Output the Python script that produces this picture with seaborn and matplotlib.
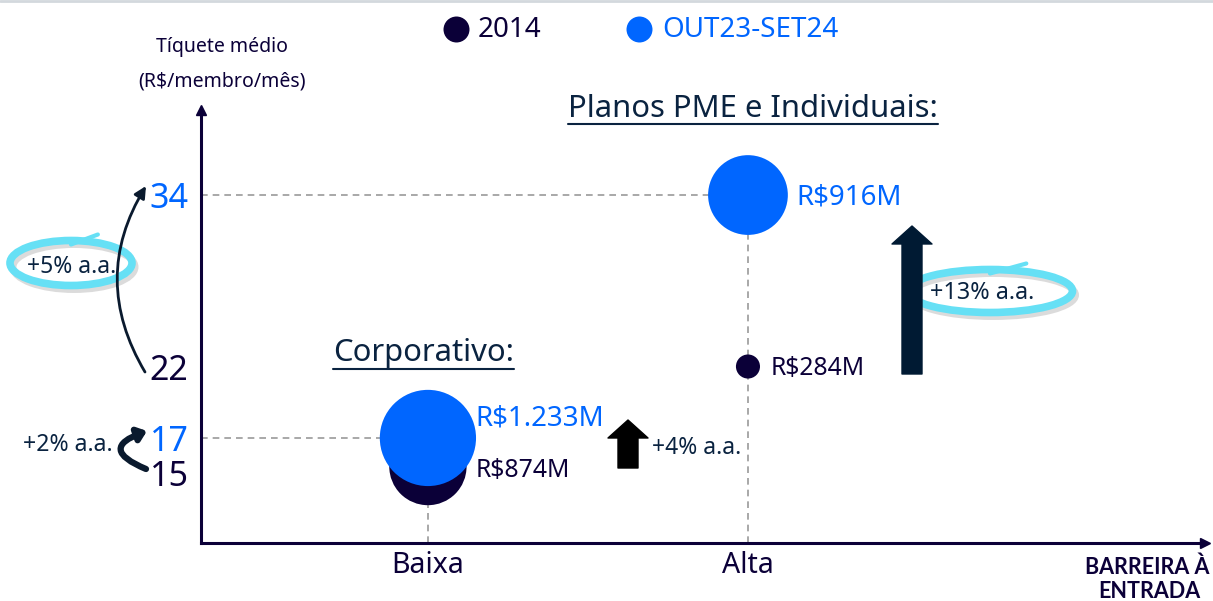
import pandas as pd
import numpy as np
import matplotlib.pyplot as plt
import matplotlib.patches as mpatches
import matplotlib.transforms as mtransforms
import seaborn as sns

# data
barreira = ["Baixa", "Baixa", "Alta", "Alta"]
periodo = ["2014", "OUT23-SET24", "2014", "OUT23-SET24"]
ticket = [15, 17, 22, 34]
receita = [874, 1233, 284, 916]
rotulos = ["R$874M", "R$1.233M", "R$284M", "R$916M"]
yticks = [15, 17, 22, 34]
series = ["2014", "OUT23-SET24"]

NAVY = "#0B0038"
BLUE = "#0066FF"
TXT = "#0A2340"
CYAN = "#66E0F5"
cores = {"2014": NAVY, "OUT23-SET24": BLUE}

df = pd.DataFrame({"barreira": barreira, "periodo": periodo,
                   "ticket": ticket, "receita": receita, "rotulo": rotulos})

sns.set_style("white")
plt.rcParams["font.family"] = ["Noto Sans", "DejaVu Sans"]

W, H = 1213, 601
fig = plt.figure(figsize=(W / 100, H / 100), dpi=100)
# main axes: spans x 201..1205, y 110..543 in pixels
ax = fig.add_axes([201 / W, 1 - 543 / H, 1004 / W, 433 / H])

sns.scatterplot(data=df, x="barreira", y="ticket", hue="periodo", size="receita",
                sizes=(300, 4800), palette=cores,
                linewidth=0, legend=False, ax=ax, zorder=3)

ax.set_xlim(-0.709, 2.428)
ax.set_ylim(9.65, 39.95)

# dashed guides
gray = "#9A9A9A"
xl, yb = ax.get_xlim()[0], ax.get_ylim()[0]
for xi, yi in [(0, 17), (1, 34)]:
    ax.plot([xl, xi], [yi, yi], ls=(0, (4, 3)), color=gray, lw=1.2, zorder=1)
    ax.plot([xi, xi], [yb, yi], ls=(0, (4, 3)), color=gray, lw=1.2, zorder=1)

# bubble labels
offsets = {"R$874M": (34, -3), "R$1.233M": (34, 14), "R$284M": (16.5, -1.5), "R$916M": (35, -1.5)}
for _, r in df.iterrows():
    xi = 0 if r["barreira"] == "Baixa" else 1
    novo = r["periodo"] != "2014"
    ax.annotate(r["rotulo"], xy=(xi, r["ticket"]), xytext=offsets[r["rotulo"]],
                textcoords="offset points", ha="left", va="center",
                fontsize=19.9 if novo else 17.8, color=cores[r["periodo"]])

# axes styling
for s in ["top", "right"]:
    ax.spines[s].set_visible(False)
for s in ["left", "bottom"]:
    ax.spines[s].set_color(NAVY)
    ax.spines[s].set_linewidth(2.2)
ax.plot(1.0, 0, ">", color=NAVY, ms=7, transform=ax.transAxes, clip_on=False)
ax.plot(0, 1.0, "^", color=NAVY, ms=7, transform=ax.transAxes, clip_on=False)

ax.set_yticks(yticks)
ax.set_yticklabels([str(t) for t in yticks], fontsize=24.5)
for lab, t in zip(ax.get_yticklabels(), yticks):
    lab.set_color(BLUE if t in (17, 34) else NAVY)
ax.tick_params(axis="y", length=0, pad=9)
ax.tick_params(axis="x", length=0, pad=6, labelsize=20.5, labelcolor=NAVY)
ax.set_xlabel("")
ax.set_ylabel("")
# the "15" sits a little below its tick in the reference
lab15 = ax.get_yticklabels()[0]
lab15.set_transform(lab15.get_transform() +
                    mtransforms.ScaledTranslation(0, -5 / 72, fig.dpi_scale_trans))

# overlay in pixel coords for decorations
deco = fig.add_axes([0, 0, 1, 1], zorder=5)
deco.set_xlim(0, W)
deco.set_ylim(H, 0)
deco.axis("off")
deco.patch.set_alpha(0)

deco.plot([0, W], [1, 1], color="#D3D8DD", lw=2)

deco.text(222, 47, "Tíquete médio", ha="center", va="center", fontsize=14, color=NAVY)
deco.text(222, 82, "(R$/membro/mês)", ha="center", va="center", fontsize=14, color=NAVY)
deco.text(1147, 567, "BARREIRA À", ha="center", va="center", fontsize=15.5,
          color=NAVY, fontweight="bold", family="Lato")
deco.text(1149, 591, "ENTRADA", ha="center", va="center", fontsize=15.5,
          color=NAVY, fontweight="bold", family="Lato")

# legend, drawn by hand to keep the spacing of the reference
for (mx, tx), s in zip([(456, 478), (639, 662)], series):
    deco.scatter([mx], [29], s=350, color=cores[s], linewidth=0)
    deco.text(tx, 30, s, ha="left", va="center", fontsize=20, color=cores[s])

# section titles with underline
titles = [(568, 109, 124, "Planos PME e Individuais:"), (333, 353, 369, "Corporativo:")]
tobjs = []
for x0, yc, yu, t in titles:
    tobjs.append((deco.text(x0, yc, t, ha="left", va="center", fontsize=22.3, color=TXT), yu))

# block arrows
def block_arrow(x, y0, y1, color):
    deco.annotate("", xy=(x, y1), xytext=(x, y0),
                  arrowprops=dict(arrowstyle="simple,head_width=2.0,head_length=0.9,tail_width=1.0",
                                  mutation_scale=14.4, color=color, shrinkA=0, shrinkB=0))

block_arrow(628, 468, 420, "#000000")
block_arrow(912, 374, 226, "#001A33")
deco.text(652, 448, "+4% a.a.", ha="left", va="center", fontsize=16.5, color=TXT)

# curved arrows on the y axis
deco.annotate("", xy=(146, 186), xytext=(145, 372),
              arrowprops=dict(arrowstyle="-|>,head_width=0.35,head_length=0.7", color="#0A1A2E",
                              lw=2, connectionstyle="arc3,rad=-0.3", shrinkA=0, shrinkB=0))
deco.annotate("", xy=(147, 431), xytext=(146, 469),
              arrowprops=dict(arrowstyle="-|>,head_width=0.4,head_length=0.5", color="#0A1A2E",
                              lw=4.5, connectionstyle="arc3,rad=-1.3", shrinkA=0, shrinkB=0))
deco.text(68, 445, "+2% a.a.", ha="center", va="center", fontsize=16.6, color=TXT)

# highlighted rings
def ring(cx, cy, w, h, tx, ty, text, fs):
    deco.add_patch(mpatches.Ellipse((cx + 3, cy + 4), w, h, fill=False, lw=5,
                                    ec="#B0B0B0", alpha=0.45))
    deco.add_patch(mpatches.Ellipse((cx, cy), w, h, fill=False, lw=5.5, ec=CYAN))
    deco.plot([cx, cx + w * 0.22], [cy - h * 0.5 + 4, cy - h * 0.5 - 6],
              color=CYAN, lw=3, solid_capstyle="round")
    deco.text(tx, ty, text, ha="center", va="center", fontsize=fs, color=TXT)

ring(71, 263, 122, 45, 72, 267, "+5% a.a.", 16.5)
ring(990, 291, 165, 43, 982, 293, "+13% a.a.", 16.8)

# draw underlines under the titles
fig.canvas.draw()
for t, yu in tobjs:
    bb = t.get_window_extent()
    deco.plot([bb.x0, bb.x1], [yu, yu], color=TXT, lw=1.5)

fig.savefig("out.png", dpi=100)
